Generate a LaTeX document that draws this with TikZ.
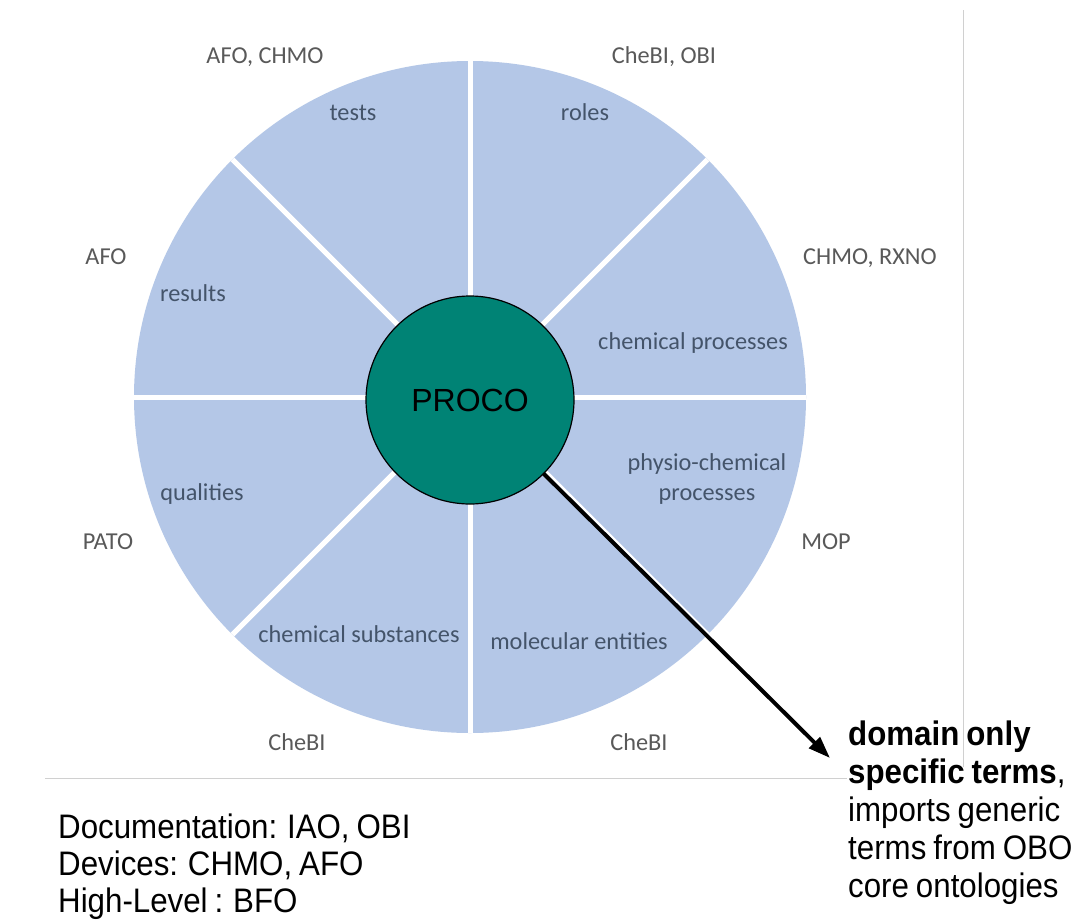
\documentclass[tikz,border=0pt]{standalone}
\usepackage{fontspec}
\usetikzlibrary{arrows.meta}
\newfontfamily\calib{Carlito}
\newfontfamily\arialf{Liberation Sans}
\newfontfamily\arialc[FakeStretch=0.92,WordSpace=0.8]{Liberation Sans}
\definecolor{sectorblue}{RGB}{180,199,231}
\definecolor{procogreen}{RGB}{0,131,117}
\definecolor{sectortext}{RGB}{68,84,106}
\definecolor{outertext}{RGB}{89,89,89}
\definecolor{rulegray}{RGB}{208,208,208}
\tikzset{
  wheelstyle/.style={circle, fill=sectorblue, inner sep=0pt, outer sep=0pt, minimum size=672pt},
  gapline/.style={white, line width=5pt},
  hubstyle/.style={circle, fill=procogreen, draw=black, line width=1.2pt, inner sep=0pt, outer sep=0pt, minimum size=208pt, font=\arialf\fontsize{32}{36}\selectfont},
  seclabel/.style={anchor=mid, inner sep=0pt, text=sectortext, font=\calib\fontsize{24.3}{30}\selectfont},
  outlabel/.style={anchor=mid, inner sep=0pt, text=outertext, font=\calib\fontsize{24.3}{30}\selectfont},
  notetext/.style={anchor=north west, inner sep=0pt, align=left, font=\arialc\fontsize{34}{37.8}\selectfont},
  pointer/.style={-{Triangle[length=22pt,width=15pt]}, line width=4pt, black},
  thinrule/.style={rulegray, line width=1pt}
}
\begin{document}
\begin{tikzpicture}[x=1pt,y=-1pt]
\useasboundingbox (0,0) rectangle (1084,921);
\fill[white] (0,0) rectangle (1084,921);
% thin rules
\coordinate (vtop) at (963,10);
\coordinate (vbot) at (963,767);
\coordinate (hl) at (45,778);
\coordinate (hr) at (847,778);
\draw[thinrule] (vtop) -- (vbot);
\draw[thinrule] (hl) -- (hr);
% wheel
\node[wheelstyle] (wheel) at (470,397) {};
\draw[gapline] (wheel.0) -- (wheel.180);
\draw[gapline] (wheel.90) -- (wheel.270);
\draw[gapline] (wheel.45) -- (wheel.225);
\draw[gapline] (wheel.135) -- (wheel.315);
% sector labels
\node[seclabel] (tests) at (353,118) {tests};
\node[seclabel] (roles) at (585,118) {roles};
\node[seclabel] (results) at (193,299) {results};
\node[seclabel] (chemproc) at (693,347) {chemical processes};
\node[seclabel] (qualities) at (202,498) {qualities};
\node[seclabel, anchor=center, align=center] (physio) at (707,479) {physio-chemical\\processes};
\node[seclabel] (chemsub) at (359,640) {chemical substances};
\node[seclabel] (molent) at (579,647) {molecular entities};
% outer labels
\node[outlabel] (o1) at (265,61) {AFO, CHMO};
\node[outlabel] (o2) at (664,61) {CheBI, OBI};
\node[outlabel] (o3) at (106,262) {AFO};
\node[outlabel] (o4) at (870,262) {CHMO, RXNO};
\node[outlabel] (o5) at (108,547) {PATO};
\node[outlabel] (o6) at (826,547) {MOP};
\node[outlabel] (o7) at (297,748) {CheBI};
\node[outlabel] (o8) at (639,748) {CheBI};
% hub
\node[hubstyle] (proco) at (470,400) {PROCO};
% arrow
\coordinate (tip) at (830,758);
\draw[pointer] (proco.-45) -- (tip);
% notes
\node[notetext] (domain) at (848,721) {\textbf{domain only}\\\textbf{specific terms}, \\imports generic\\terms from OBO\\core ontologies};
\node[notetext, font=\arialc\fontsize{34}{37}\selectfont] (docs) at (58,814) {Documentation: IAO, OBI\\Devices: CHMO, AFO\\High-Level : BFO};
\end{tikzpicture}
\end{document}
